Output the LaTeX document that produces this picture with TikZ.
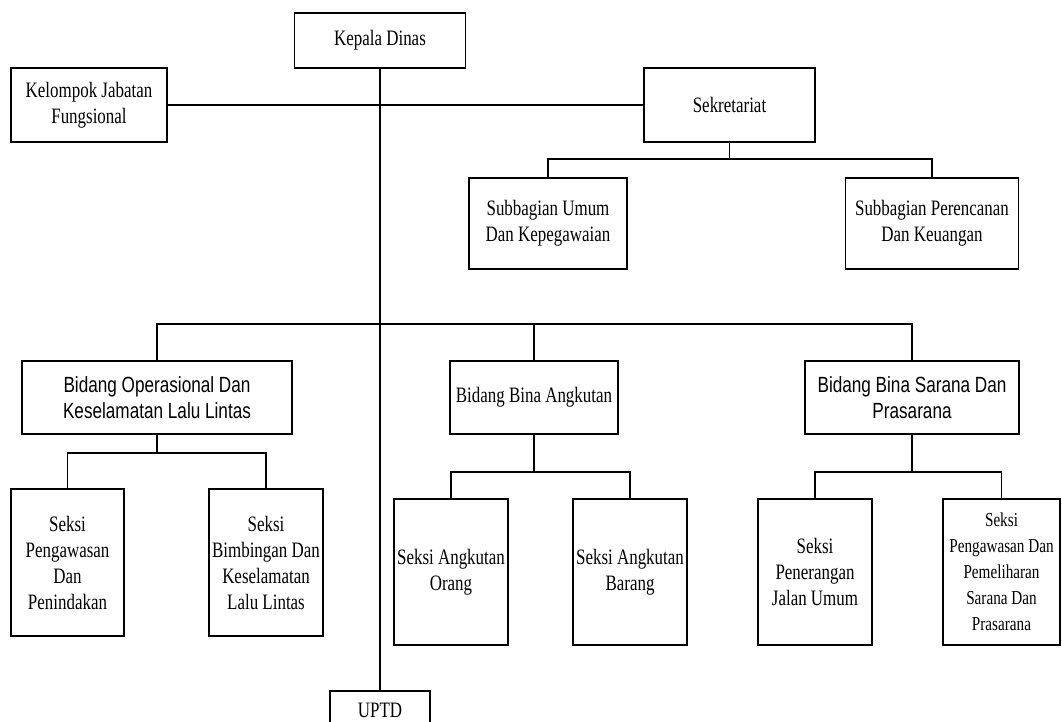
\documentclass[tikz,border=0pt]{standalone}
\usepackage{fontspec}
\setmainfont{Liberation Serif}[FakeStretch=0.77]
\newfontfamily\bidangsans{Liberation Sans}[FakeStretch=0.78]
\usetikzlibrary{positioning}
\newlength{\pxu}
\setlength{\pxu}{0.75pt}

\begin{document}
\begin{tikzpicture}[x=0.75pt, y=-0.75pt,
  kotak/.style={draw, line width=1.2pt, align=center, inner sep=0pt, font=\fontsize{16.5}{19.5}\selectfont},
  garis/.style={line width=1.2pt}]
\useasboundingbox (0,0) rectangle (1062,721);
\node (KD) [kotak, minimum width=171\pxu, minimum height=55\pxu] at (380,40.5) {Kepala Dinas};
\node (KJF) [kotak, minimum width=156\pxu, minimum height=74\pxu] at (89,105) {Kelompok Jabatan\\Fungsional};
\node (SEK) [kotak, minimum width=171\pxu, minimum height=74\pxu] at (729.5,105) {Sekretariat};
\node (SBU) [kotak, minimum width=158\pxu, minimum height=91\pxu] at (548,223.5) {Subbagian Umum\\Dan Kepegawaian};
\node (SBP) [kotak, minimum width=173\pxu, minimum height=91\pxu] at (932,223.5) {Subbagian Perencanan\\Dan Keuangan};
\node (BOP) [kotak, minimum width=270\pxu, minimum height=73\pxu, font=\bidangsans\fontsize{16.5}{20}\selectfont] at (157,397.5) {Bidang Operasional Dan\\Keselamatan Lalu Lintas};
\node (BBA) [kotak, minimum width=168\pxu, minimum height=73\pxu] at (534,397.5) {Bidang Bina Angkutan};
\node (BSP) [kotak, minimum width=214\pxu, minimum height=73\pxu, font=\bidangsans\fontsize{16.5}{20}\selectfont] at (912,397.5) {Bidang Bina Sarana Dan\\Prasarana};
\node (S1) [kotak, minimum width=113\pxu, minimum height=147\pxu] at (67.5,562.5) {Seksi\\Pengawasan\\Dan\\Penindakan};
\node (S2) [kotak, minimum width=114\pxu, minimum height=147\pxu] at (266,562.5) {Seksi\\Bimbingan Dan\\Keselamatan\\Lalu Lintas};
\node (S3) [kotak, minimum width=114\pxu, minimum height=146\pxu] at (451,572) {Seksi Angkutan\\Orang};
\node (S4) [kotak, minimum width=114\pxu, minimum height=146\pxu] at (630,572) {Seksi Angkutan\\Barang};
\node (S5) [kotak, minimum width=114\pxu, minimum height=146\pxu] at (815,572) {Seksi\\Penerangan\\Jalan Umum};
\node (S6) [kotak, minimum width=117\pxu, minimum height=146\pxu, font=\fontsize{14.8}{19.5}\selectfont] at (1001.5,572) {Seksi\\Pengawasan Dan\\Pemeliharan\\Sarana Dan\\Prasarana};
\node (UPTD) [kotak, minimum width=100\pxu, minimum height=38\pxu] at (380,710) {UPTD};
\coordinate (busSek) at (729.5,159);
\coordinate (busUtama) at (380,324);
\coordinate (busBop) at (157,453);
\coordinate (busBba) at (534,472);
\coordinate (busBsp) at (912,472);
\draw[garis] (KD.south) -- (UPTD.north);
\draw[garis] (KJF.east) -- (SEK.west);
\draw[garis] (SEK.south) -- (busSek);
\draw[garis] (SBU.north) |- (busSek) -| (SBP.north);
\draw[garis] (BOP.north) |- (busUtama) -| (BSP.north);
\draw[garis] (BBA.north) -- (BBA.north |- busUtama);
\draw[garis] (BOP.south) -- (busBop);
\draw[garis] (S1.north) |- (busBop) -| (S2.north);
\draw[garis] (BBA.south) -- (busBba);
\draw[garis] (S3.north) |- (busBba) -| (S4.north);
\draw[garis] (BSP.south) -- (busBsp);
\draw[garis] (S5.north) |- (busBsp) -| (S6.north);
\end{tikzpicture}
\end{document}
